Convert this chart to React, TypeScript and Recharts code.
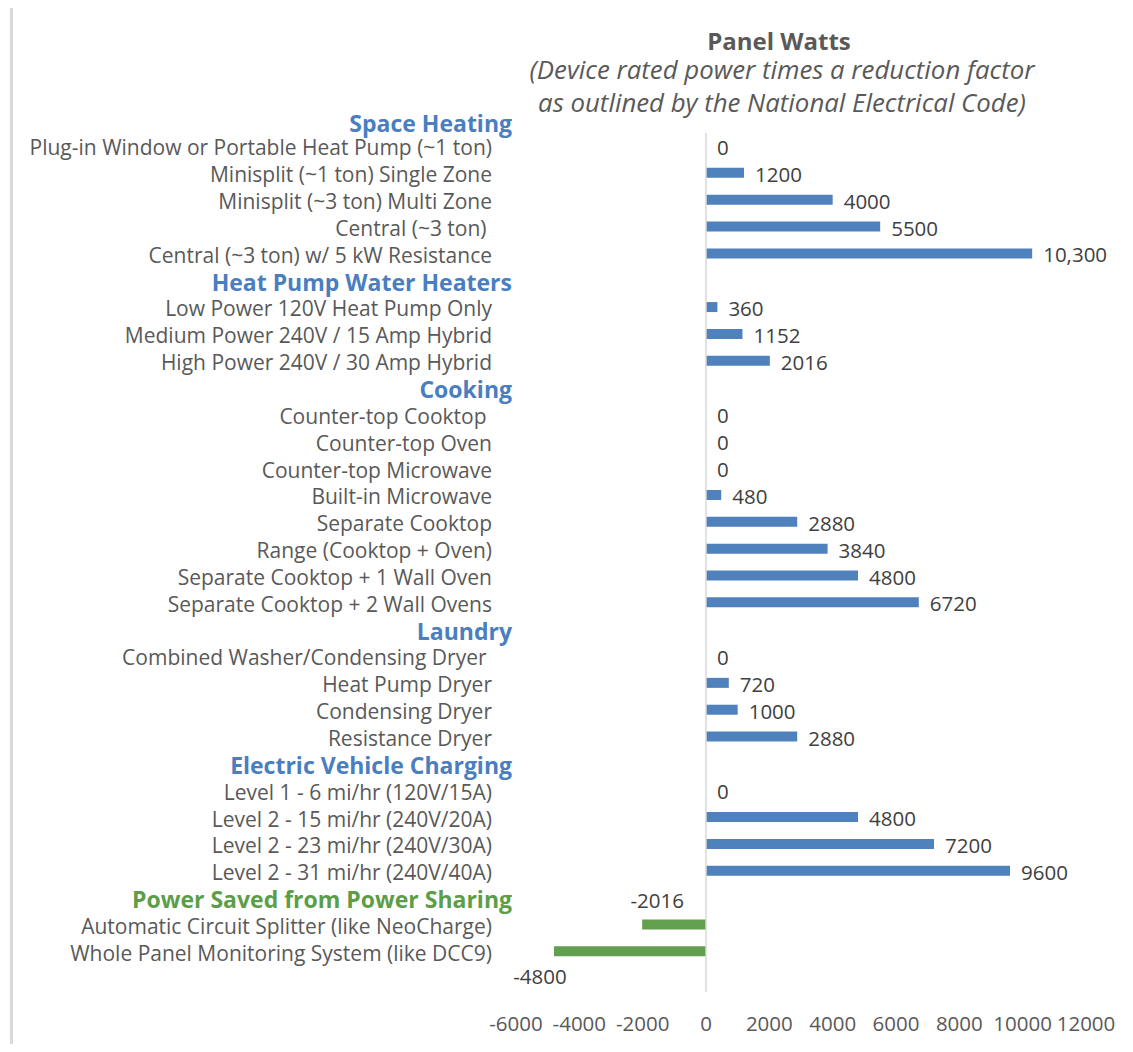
import React from "react";
import { BarChart, Bar, XAxis, YAxis, Cell, LabelList, ReferenceLine } from "recharts";

// ---- data ----
const firstHeader = "Space Heating";
const sectionHeaders = [
  "Heat Pump Water Heaters",
  "Cooking",
  "Laundry",
  "Electric Vehicle Charging",
  "Power Saved from Power Sharing",
];
const savingsHeader = "Power Saved from Power Sharing";

const categories = [
  "Plug-in Window or Portable Heat Pump (~1 ton)",
  "Minisplit (~1 ton) Single Zone",
  "Minisplit (~3 ton) Multi Zone",
  "Central (~3 ton) ",
  "Central (~3 ton) w/ 5 kW Resistance",
  "Heat Pump Water Heaters",
  "Low Power 120V Heat Pump Only",
  "Medium Power 240V / 15 Amp Hybrid",
  "High Power 240V / 30 Amp Hybrid",
  "Cooking",
  "Counter-top Cooktop ",
  "Counter-top Oven",
  "Counter-top Microwave",
  "Built-in Microwave",
  "Separate Cooktop",
  "Range (Cooktop + Oven)",
  "Separate Cooktop + 1 Wall Oven",
  "Separate Cooktop + 2 Wall Ovens",
  "Laundry",
  "Combined Washer/Condensing Dryer ",
  "Heat Pump Dryer",
  "Condensing Dryer",
  "Resistance Dryer",
  "Electric Vehicle Charging",
  "Level 1 - 6 mi/hr (120V/15A)",
  "Level 2 - 15 mi/hr (240V/20A)",
  "Level 2 - 23 mi/hr (240V/30A)",
  "Level 2 - 31 mi/hr (240V/40A)",
  "Power Saved from Power Sharing",
  "Automatic Circuit Splitter (like NeoCharge)",
  "Whole Panel Monitoring System (like DCC9)",
  "",
];

const panelWatts: (number | null)[] = [
  0, 1200, 4000, 5500, 10300,
  null,
  360, 1152, 2016,
  null,
  0, 0, 0, 480, 2880, 3840, 4800, 6720,
  null,
  0, 720, 1000, 2880,
  null,
  0, 4800, 7200, 9600,
  null,
  -2016, -4800,
  null,
];

const xTicks = [-6000, -4000, -2000, 0, 2000, 4000, 6000, 8000, 10000, 12000];

const titleText = "Panel Watts";
const subtitleLines = [
  "(Device rated power times a reduction factor",
  "as outlined by the National Electrical Code)",
];

const rows = categories.map((name, i) => ({ name, watts: panelWatts[i] }));

// ---- styles ----
const FONT = "'Open Sans', Lato, sans-serif";
const BLUE = "#4f81bd";
const HEADER_BLUE = "#4a7ebf";
const GREEN = "#629f4f";
const HEADER_GREEN = "#5c9e48";
const TEXT = "#595959";
const LABEL = "#404040";
const FS = 21;
const NUM_FS = 20.5;
const HEAD_FS = 23;

const fmt = (v: number) => (Math.abs(v) >= 10000 ? v.toLocaleString("en-US") : String(v));

const YTick = (props: any) => {
  const { x, y, payload } = props;
  const v: string = payload.value;
  const isHeader = sectionHeaders.includes(v);
  const els: React.ReactNode[] = [];
  if (v === categories[0]) {
    els.push(
      <text key="h0" x={x - 4} y={y - 23.5} textAnchor="end" dominantBaseline="central"
        fill={HEADER_BLUE} fontWeight={700} fontSize={HEAD_FS} fontFamily={FONT}>
        {firstHeader}
      </text>
    );
  }
  if (isHeader) {
    els.push(
      <text key="h" x={x - 4} y={y + 1} textAnchor="end" dominantBaseline="central"
        fill={v === savingsHeader ? HEADER_GREEN : HEADER_BLUE} fontWeight={700}
        fontSize={HEAD_FS} fontFamily={FONT}>
        {v}
      </text>
    );
  } else if (v) {
    els.push(
      <text key="t" x={x - 24} y={y + 1} textAnchor="end" dominantBaseline="central"
        fill={TEXT} fontSize={FS} fontFamily={FONT} style={{ whiteSpace: "pre" }}>
        {v}
      </text>
    );
  }
  return <g>{els}</g>;
};

const XTick = (props: any) => {
  const { x, y, payload } = props;
  return (
    <text x={x} y={y + 31} textAnchor="middle" dominantBaseline="central"
      fill={TEXT} fontSize={NUM_FS} fontFamily={FONT}>
      {String(payload.value)}
    </text>
  );
};

const negValues = panelWatts.filter((v): v is number => v != null && v < 0);
const mostNegative = Math.min(...negValues);

const BarLabel = (props: any) => {
  const { x, y, width, height, value } = props;
  if (value == null) return null;
  const left = Math.min(x, x + width);
  const right = Math.max(x, x + width);
  const cy = y + height / 2;
  if (value < 0) {
    const below = value === mostNegative;
    return (
      <text x={below ? left - 14 : left + 15} y={below ? cy + 25 : cy - 24} textAnchor="middle"
        dominantBaseline="central" fill={LABEL} fontSize={NUM_FS} fontFamily={FONT}>
        {fmt(value)}
      </text>
    );
  }
  return (
    <text x={right + 11} y={cy + 1} textAnchor="start" dominantBaseline="central"
      fill={LABEL} fontSize={NUM_FS} fontFamily={FONT}>
      {fmt(value)}
    </text>
  );
};

export default function App() {
  return (
    <div style={{ position: "relative", width: 1133, height: 1052, margin: -8, background: "#fff", fontFamily: FONT, overflow: "hidden" }}>
      <div style={{ position: "absolute", left: 10, top: 4, width: 1120, height: 1100, boxSizing: "border-box",
        borderLeft: "3px solid #d9d9d9", borderTop: "3px solid #d9d9d9", borderRight: "3px solid #d9d9d9" }} />
      <svg width={1133} height={130} style={{ position: "absolute", left: 0, top: 0 }}>
        <text x={779} y={50} textAnchor="middle" fill={TEXT} fontFamily={FONT} fontWeight={700} fontSize={24}>
          {titleText}
        </text>
        {subtitleLines.map((l, i) => (
          <text key={l} x={782} y={79 + i * 33} textAnchor="middle" fill={TEXT} fontFamily={FONT}
            fontStyle="italic" fontSize={25.8}>
            {l}
          </text>
        ))}
      </svg>
      <div style={{ position: "absolute", left: 0, top: 0 }}>
        <BarChart width={1133} height={1052} data={rows} layout="vertical" barSize={10}
          margin={{ top: 133, right: 47, bottom: 0, left: 0 }}>
          <XAxis type="number" domain={[-6000, 12000]} ticks={xTicks} height={60} axisLine={false}
            tickLine={false} tickSize={0} tickMargin={0} tick={<XTick />} interval={0} allowDataOverflow />
          <YAxis type="category" dataKey="name" width={516} axisLine={false} tickLine={false}
            tickSize={0} tickMargin={0} interval={0} tick={<YTick />} />
          <ReferenceLine x={0} stroke="#d9d9d9" strokeWidth={1.5} />
          <Bar dataKey="watts" isAnimationActive={false}
            minPointSize={(v: number) => (v === 0 ? 0.01 : 0)}>
            {rows.map((r, i) => (
              <Cell key={i} fill={r.watts != null && r.watts < 0 ? GREEN : BLUE} />
            ))}
            <LabelList dataKey="watts" content={<BarLabel />} />
          </Bar>
        </BarChart>
      </div>
    </div>
  );
}
